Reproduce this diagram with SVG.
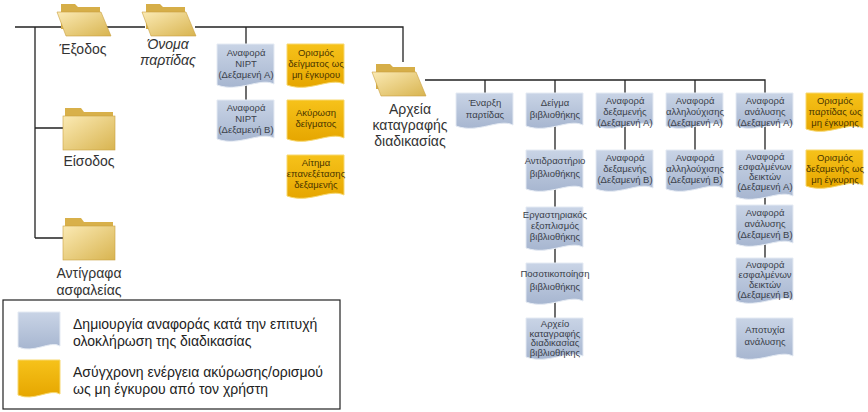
<svg xmlns="http://www.w3.org/2000/svg" width="868" height="412" viewBox="0 0 868 412">
<style>
text{font-family:"Liberation Sans",Arial,sans-serif;text-anchor:middle}
.b{fill:url(#gb);stroke:#e4eaf3;stroke-width:1}
.o{fill:url(#go);stroke:#f7d870;stroke-width:1}
.bt{font-size:9.5px;fill:#3a3f4a}
.ot{font-size:9.5px;fill:#4a3500}
.lbl{font-size:14px;fill:#333}
.lg{font-size:14px;fill:#222;text-anchor:start}
.c{stroke:#222;stroke-width:1.3;fill:none}
</style>
<defs>
<linearGradient id="gb" x1="0" y1="0" x2="0" y2="1"><stop offset="0" stop-color="#c9d4e6"/><stop offset="1" stop-color="#a7b6d0"/></linearGradient>
<linearGradient id="go" x1="0" y1="0" x2="0" y2="1"><stop offset="0" stop-color="#f6c21a"/><stop offset="1" stop-color="#e6a600"/></linearGradient>
<linearGradient id="gf" x1="0" y1="0" x2="1" y2="1"><stop offset="0" stop-color="#fbeab4"/><stop offset="1" stop-color="#d8b450"/></linearGradient>
<symbol id="fo" viewBox="0 0 54 34" overflow="visible">
<path d="M4 2 h14 l3 3 h22 v22 h-39 z" fill="#d6ae48"/>
<path d="M0 10 h44 l10 24 h-45 z" fill="url(#gf)" stroke="#c9a040" stroke-width="0.6"/>
</symbol>
<symbol id="fc" viewBox="0 0 52 42" overflow="visible">
<path d="M2 0 h16 l3 4 h29 v8 h-48 z" fill="#d8b04a"/>
<rect x="0" y="8" width="52" height="34" fill="url(#gf)" stroke="#c9a040" stroke-width="0.6"/>
</symbol>
</defs>
<rect width="868" height="412" fill="#fff"/>
<g id="connectors" class="c">
<path d="M15 27 H62 M106 27 H145 M195 27 H403 V62 M246 27 V44 M246 84 V100"/>
<path d="M35 27 V238 M35 128 H63 M35 238 H63"/>
<path d="M425 80 H765 V93 M485 80 V93 M555 80 V93 M625 80 V93 M695 80 V93"/>
<path d="M555 125 V150 M555 188 V207 M555 247 V263 M555 301 V318"/>
<path d="M625 125 V150 M695 125 V150 M765 125 V150 M765 196 V205 M765 243 V258"/>
</g>
<g id="exodos"><use href="#fo" x="57" y="2" width="54" height="34"/><text class="lbl" x="83" y="54">Έξοδος</text></g>
<g id="onoma"><use href="#fo" x="142" y="2" width="54" height="34"/><text class="lbl" x="168" y="49" font-size="12" font-style="italic">Όνομα</text><text class="lbl" x="168" y="65" font-size="12" font-style="italic">παρτίδας</text></g>
<g id="eisodos"><use href="#fc" x="63" y="108" width="52" height="42"/><text class="lbl" x="89" y="166">Είσοδος</text></g>
<g id="antigrafa"><use href="#fc" x="63" y="218" width="52" height="42"/><text class="lbl" x="89" y="278">Αντίγραφα</text><text class="lbl" x="89" y="295">ασφαλείας</text></g>
<g id="arxeia"><use href="#fo" x="372" y="62" width="54" height="34"/><text class="lbl" x="410" y="114" font-size="13">Αρχεία</text><text class="lbl" x="410" y="130" font-size="13">καταγραφής</text><text class="lbl" x="410" y="146" font-size="13">διαδικασίας</text></g>

<g id="nipt-a"><path class="b" d="M217 44 h57 v40 c-14,-7 -35,9 -57,1 z"/><text class="bt" x="246" y="56">Αναφορά</text><text class="bt" x="246" y="67">NIPT</text><text class="bt" x="246" y="78">(Δεξαμενή A)</text></g>
<g id="nipt-b"><path class="b" d="M217 100 h57 v38 c-14,-7 -35,9 -57,1 z"/><text class="bt" x="246" y="111">Αναφορά</text><text class="bt" x="246" y="122">NIPT</text><text class="bt" x="246" y="133">(Δεξαμενή B)</text></g>
<g id="o1"><path class="o" d="M287 44 h57 v40 c-14,-7 -35,9 -57,1 z"/><text class="ot" x="316" y="56">Ορισμός</text><text class="ot" x="316" y="67">δείγματος ως</text><text class="ot" x="316" y="78">μη έγκυρου</text></g>
<g id="o2"><path class="o" d="M287 100 h57 v38 c-14,-7 -35,9 -57,1 z"/><text class="ot" x="316" y="116">Ακύρωση</text><text class="ot" x="316" y="127">δείγματος</text></g>
<g id="o3"><path class="o" d="M287 155 h57 v40 c-14,-7 -35,9 -57,1 z"/><text class="ot" x="316" y="166">Αίτημα</text><text class="ot" x="316" y="177">επανεξέτασης</text><text class="ot" x="316" y="188">δεξαμενής</text></g>

<g id="enarxi"><path class="b" d="M456 93 h57 v32 c-14,-7 -35,9 -57,1 z"/><text class="bt" x="485" y="106">Έναρξη</text><text class="bt" x="485" y="118">παρτίδας</text></g>
<g id="deigma"><path class="b" d="M526 93 h57 v32 c-14,-7 -35,9 -57,1 z"/><text class="bt" x="555" y="106">Δείγμα</text><text class="bt" x="555" y="118">βιβλιοθήκης</text></g>
<g id="antidr"><path class="b" d="M526 150 h57 v38 c-14,-7 -35,9 -57,1 z"/><text class="bt" x="555" y="164">Αντιδραστήριο</text><text class="bt" x="555" y="177">βιβλιοθήκης</text></g>
<g id="ergast"><path class="b" d="M526 207 h57 v40 c-14,-7 -35,9 -57,1 z"/><text class="bt" x="555" y="218">Εργαστηριακός</text><text class="bt" x="555" y="229">εξοπλισμός</text><text class="bt" x="555" y="240">βιβλιοθήκης</text></g>
<g id="posot"><path class="b" d="M526 263 h57 v38 c-14,-7 -35,9 -57,1 z"/><text class="bt" x="555" y="277">Ποσοτικοποίηση</text><text class="bt" x="555" y="290">βιβλιοθήκης</text></g>
<g id="arxeio"><path class="b" d="M526 318 h57 v38 c-14,-7 -35,9 -57,1 z"/><text class="bt" x="555" y="327" font-size="8.5">Αρχείο</text><text class="bt" x="555" y="336.5" font-size="8.5">καταγραφής</text><text class="bt" x="555" y="346" font-size="8.5">διαδικασίας</text><text class="bt" x="555" y="355.5" font-size="8.5">βιβλιοθήκης</text></g>

<g id="dex-a"><path class="b" d="M596 93 h57 v32 c-14,-7 -35,9 -57,1 z"/><text class="bt" x="625" y="104">Αναφορά</text><text class="bt" x="625" y="115">δεξαμενής</text><text class="bt" x="625" y="126">(Δεξαμενή A)</text></g>
<g id="dex-b"><path class="b" d="M596 150 h57 v38 c-14,-7 -35,9 -57,1 z"/><text class="bt" x="625" y="161">Αναφορά</text><text class="bt" x="625" y="172">δεξαμενής</text><text class="bt" x="625" y="183">(Δεξαμενή B)</text></g>
<g id="all-a"><path class="b" d="M666 93 h57 v32 c-14,-7 -35,9 -57,1 z"/><text class="bt" x="695" y="104">Αναφορά</text><text class="bt" x="695" y="115">αλληλούχισης</text><text class="bt" x="695" y="126">(Δεξαμενή A)</text></g>
<g id="all-b"><path class="b" d="M666 150 h57 v38 c-14,-7 -35,9 -57,1 z"/><text class="bt" x="695" y="161">Αναφορά</text><text class="bt" x="695" y="172">αλληλούχισης</text><text class="bt" x="695" y="183">(Δεξαμενή B)</text></g>
<g id="an-a"><path class="b" d="M736 93 h57 v32 c-14,-7 -35,9 -57,1 z"/><text class="bt" x="765" y="104">Αναφορά</text><text class="bt" x="765" y="115">ανάλυσης</text><text class="bt" x="765" y="126">(Δεξαμενή A)</text></g>
<g id="esf-a"><path class="b" d="M736 150 h57 v46 c-14,-7 -35,9 -57,1 z"/><text class="bt" x="765" y="160">Αναφορά</text><text class="bt" x="765" y="170">εσφαλμένων</text><text class="bt" x="765" y="180">δεικτών</text><text class="bt" x="765" y="190">(Δεξαμενή A)</text></g>
<g id="an-b"><path class="b" d="M736 205 h57 v38 c-14,-7 -35,9 -57,1 z"/><text class="bt" x="765" y="216">Αναφορά</text><text class="bt" x="765" y="227">ανάλυσης</text><text class="bt" x="765" y="238">(Δεξαμενή B)</text></g>
<g id="esf-b"><path class="b" d="M736 258 h57 v42 c-14,-7 -35,9 -57,1 z"/><text class="bt" x="765" y="268">Αναφορά</text><text class="bt" x="765" y="278">εσφαλμένων</text><text class="bt" x="765" y="288">δεικτών</text><text class="bt" x="765" y="298">(Δεξαμενή B)</text></g>
<g id="apotyxia"><path class="b" d="M736 318 h57 v38 c-14,-7 -35,9 -57,1 z"/><text class="bt" x="765" y="333" font-size="10.5">Αποτυχία</text><text class="bt" x="765" y="345" font-size="10.5">ανάλυσης</text></g>
<g id="o4"><path class="o" d="M806 93 h57 v35 c-14,-7 -35,9 -57,1 z"/><text class="ot" x="835" y="104">Ορισμός</text><text class="ot" x="835" y="115">παρτίδας ως</text><text class="ot" x="835" y="126">μη έγκυρης</text></g>
<g id="o5"><path class="o" d="M806 150 h57 v35 c-14,-7 -35,9 -57,1 z"/><text class="ot" x="835" y="161">Ορισμός</text><text class="ot" x="835" y="172">δεξαμενής ως</text><text class="ot" x="835" y="183">μη έγκυρης</text></g>

<g id="legend">
<rect x="3" y="300" width="337" height="109" fill="#fff" stroke="#222" stroke-width="1.2"/>
<path class="b" d="M18 312 h42 v34 c-10,-6 -26,8 -42,1 z"/>
<path class="o" d="M18 360 h42 v34 c-10,-6 -26,8 -42,1 z"/>
<text class="lg" x="73" y="329">Δημιουργία αναφοράς κατά την επιτυχή</text>
<text class="lg" x="73" y="346">ολοκλήρωση της διαδικασίας</text>
<text class="lg" x="73" y="377">Ασύγχρονη ενέργεια ακύρωσης/ορισμού</text>
<text class="lg" x="73" y="394">ως μη έγκυρου από τον χρήστη</text>
</g>
</svg>
